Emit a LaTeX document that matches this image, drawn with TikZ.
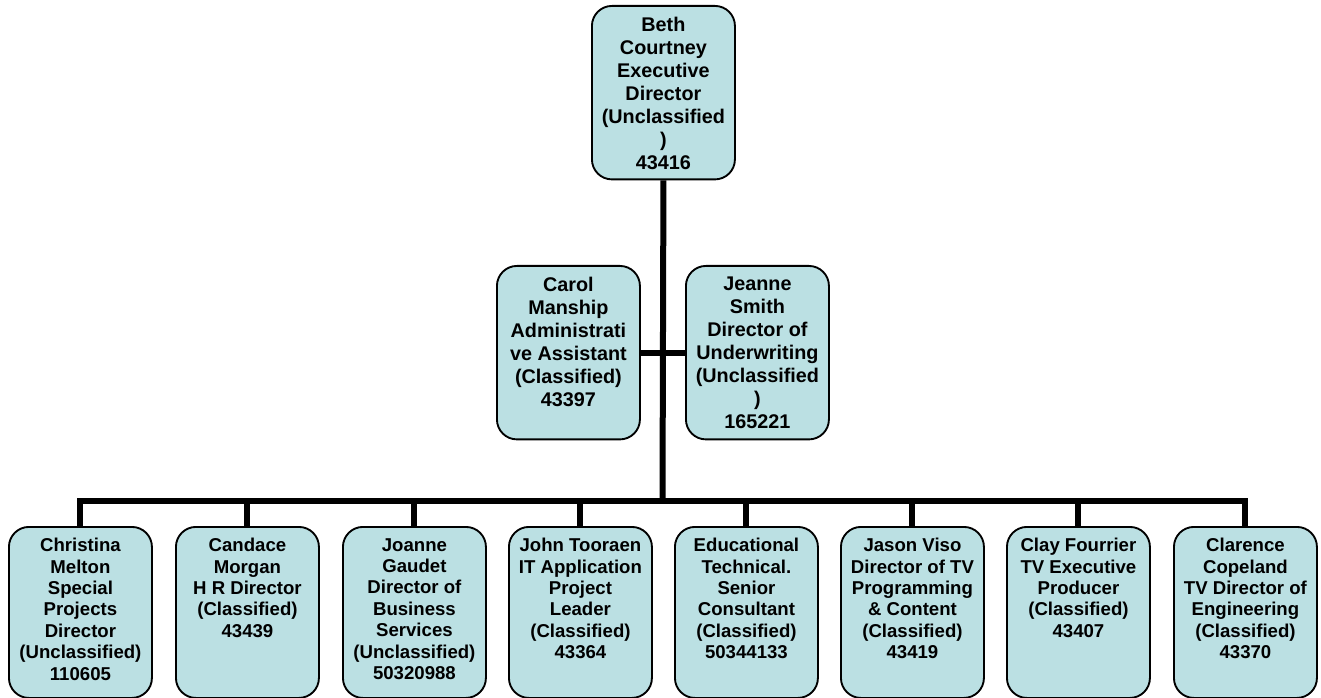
\documentclass[tikz,border=0pt]{standalone}
\usepackage{fontspec}
\setmainfont{Liberation Sans}
\definecolor{boxfill}{RGB}{187,224,227}
\tikzset{
  orgbox/.style={draw=black, line width=1.4pt, fill=boxfill, rounded corners=15pt,
    minimum width=107.25pt, inner sep=0pt, anchor=north west},
  hibox/.style={orgbox, minimum height=130.1pt},
  lobox/.style={orgbox, minimum height=128.25pt},
  hitext/.style={anchor=north, align=center, inner sep=0pt,
    font=\fontsize{14.85}{17.2}\selectfont\bfseries},
  lotext/.style={anchor=north, align=center, inner sep=0pt,
    font=\fontsize{13.95}{16.05}\selectfont\bfseries},
  conn/.style={line width=4.5pt, draw=black},
}
\begin{document}
\begin{tikzpicture}[x=0.75pt,y=-0.75pt]
\useasboundingbox[fill=white] (0,0) rectangle (1321,698);

% boxes
\node[hibox] (top) at (591,5) {};
\node[hibox] (carol) at (496,265) {};
\node[hibox] (jeanne) at (685,265) {};
\node[lobox] (b1) at (8,526) {};
\node[lobox] (b2) at (175,526) {};
\node[lobox] (b3) at (342,526) {};
\node[lobox] (b4) at (508,526) {};
\node[lobox] (b5) at (674,526) {};
\node[lobox] (b6) at (840,526) {};
\node[lobox] (b7) at (1006,526) {};
\node[lobox] (b8) at (1173,526) {};

% connectors
\coordinate (busc) at (662.5,501);
\draw[conn] (top.south) -- (busc);
\draw[conn] (carol.east) -- (jeanne.west);
\draw[conn] (b1.north) |- (busc) -| (b8.north);
\foreach \b in {b2,b3,b4,b5,b6,b7} {
  \draw[conn] (\b.north) -- (\b.north |- busc);
}

% texts
\node[hitext] (ttop) at ([yshift=-9pt]top.north) {Beth\\Courtney\\Executive\\Director\\(Unclassified\\)\\43416};
\node[hitext] (tcarol) at ([yshift=-9pt]carol.north) {Carol\\Manship\\Administrati\\ve Assistant\\(Classified)\\43397};
\node[hitext] (tjeanne) at ([yshift=-9pt]jeanne.north) {Jeanne\\Smith\\Director of\\Underwriting\\(Unclassified\\)\\165221};
\node[lotext] (t1) at ([yshift=-9pt]b1.north) {Christina\\Melton\\Special\\Projects\\Director\\(Unclassified)\\110605};
\node[lotext] (t2) at ([yshift=-9pt]b2.north) {Candace\\Morgan\\H R Director\\(Classified)\\43439};
\node[lotext] (t3) at ([yshift=-9pt]b3.north) {Joanne\\Gaudet\\Director of\\Business\\Services\\(Unclassified)\\50320988};
\node[lotext] (t4) at ([yshift=-9pt]b4.north) {John Tooraen\\IT Application\\Project\\Leader\\(Classified)\\43364};
\node[lotext] (t5) at ([yshift=-9pt]b5.north) {Educational\\Technical.\\Senior\\Consultant\\(Classified)\\50344133};
\node[lotext] (t6) at ([yshift=-9pt]b6.north) {Jason Viso\\Director of TV\\Programming\\\& Content\\(Classified)\\43419};
\node[lotext] (t7) at ([yshift=-9pt]b7.north) {Clay Fourrier\\TV Executive\\Producer\\(Classified)\\43407};
\node[lotext] (t8) at ([yshift=-9pt]b8.north) {Clarence\\Copeland\\TV Director of\\Engineering\\(Classified)\\43370};
\end{tikzpicture}
\end{document}
